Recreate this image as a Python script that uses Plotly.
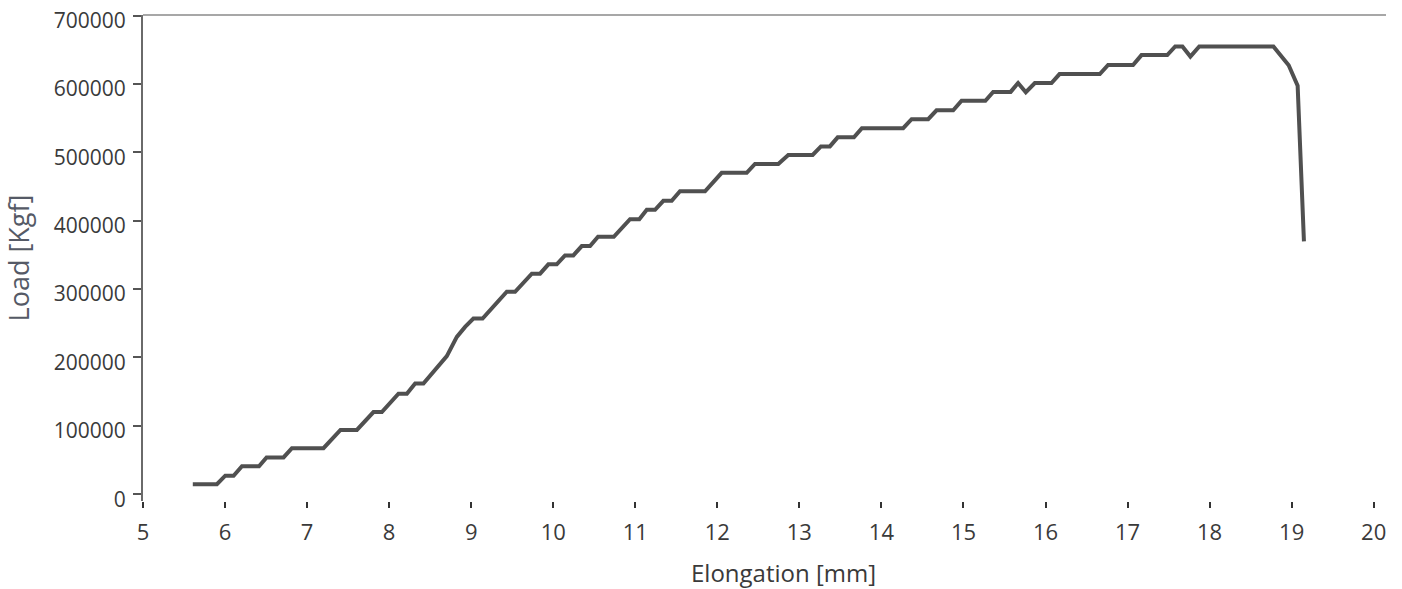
import plotly.graph_objects as go

# Elongation [mm] and Load [Kgf] (vertices of the stepped line)
elongation_mm = [
    5.607, 5.901, 6.003, 6.104, 6.206, 6.414, 6.506, 6.713, 6.815, 7.200,
    7.407, 7.607, 7.809, 7.911, 8.114, 8.216, 8.317, 8.418, 8.703, 8.825,
    8.926, 9.027, 9.139, 9.434, 9.535, 9.739, 9.840, 9.941, 10.043, 10.144,
    10.245, 10.348, 10.449, 10.546, 10.738, 10.936, 11.049, 11.140, 11.241, 11.342,
    11.444, 11.545, 11.850, 12.053, 12.358, 12.459, 12.743, 12.865, 13.162, 13.263,
    13.372, 13.467, 13.665, 13.762, 14.265, 14.368, 14.570, 14.672, 14.875, 14.977,
    15.267, 15.362, 15.575, 15.666, 15.760, 15.870, 16.073, 16.171, 16.662, 16.763,
    17.067, 17.170, 17.484, 17.581, 17.669, 17.766, 17.874, 18.778, 18.964, 19.073,
    19.150,
]
load_kgf = [
    14600, 14600, 27000, 27000, 40900, 40900, 53700, 53700, 67200, 67200,
    93900, 93900, 120100, 120100, 146900, 146900, 162000, 162000, 201900, 230100,
    244700, 256900, 256900, 296100, 296100, 322600, 322600, 336200, 336200, 349300,
    349300, 362900, 362900, 376600, 376600, 402300, 402300, 416100, 416100, 429200,
    429200, 443200, 443200, 470100, 470100, 483200, 483200, 496300, 496300, 508800,
    508800, 522000, 522000, 535500, 535500, 548500, 548500, 561600, 561600, 575600,
    575600, 588500, 588500, 601500, 588000, 601500, 601500, 614600, 614600, 627900,
    627900, 642300, 642300, 654900, 654900, 640200, 654900, 654900, 627400, 597500,
    369800,
]

x_ticks = list(range(5, 21))
y_ticks = [0, 100000, 200000, 300000, 400000, 500000, 600000, 700000]

FONT = "Open Sans"

fig = go.Figure()
fig.add_trace(go.Scatter(
    x=elongation_mm, y=load_kgf, mode="lines",
    line=dict(color="#505050", width=4),
    hoverinfo="skip", showlegend=False,
))

fig.update_layout(
    width=1402, height=589,
    margin=dict(l=143, r=16, t=15, b=88),
    paper_bgcolor="white", plot_bgcolor="white",
    font=dict(family=FONT, size=21, color="#3a3a3a"),
    xaxis=dict(
        range=[5, 20.15], tickvals=x_ticks, ticktext=[str(v) for v in x_ticks],
        showgrid=False, zeroline=False, showline=False, automargin=False,
        ticks="outside", ticklen=6, tickwidth=2, tickcolor="#333333",
        ticklabelstandoff=6,
        tickfont=dict(family=FONT, size=22, color="#3a3a3a"),
    ),
    yaxis=dict(
        range=[-10000, 701000], tickvals=y_ticks, ticktext=[str(v) for v in y_ticks],
        showgrid=False, zeroline=False, automargin=False,
        showline=True, linecolor="#6a6a6a", linewidth=2,
        ticks="outside", ticklen=8, tickwidth=2, tickcolor="#555555",
        ticklabelstandoff=3, ticklabelshift=5, ticklabeloverflow="allow",
        tickfont=dict(family=FONT, size=21, color="#3a3a3a"),
        title=dict(text="Load [Kgf]", font=dict(family=FONT, size=27, color="#555a66"), standoff=22),
    ),
    shapes=[dict(type="line", xref="paper", yref="paper", x0=0, x1=1, y0=1, y1=1,
                 line=dict(color="#8a8a8a", width=1.5))],
    annotations=[dict(text="Elongation [mm]", xref="paper", yref="paper",
                      x=0.515, y=0, yshift=-71, xanchor="center", yanchor="middle",
                      showarrow=False, font=dict(family=FONT, size=24, color="#3a3a3a"))],
)

fig.write_html("out.html", config={"displayModeBar": False},
               post_script="document.body.style.margin='0';")
